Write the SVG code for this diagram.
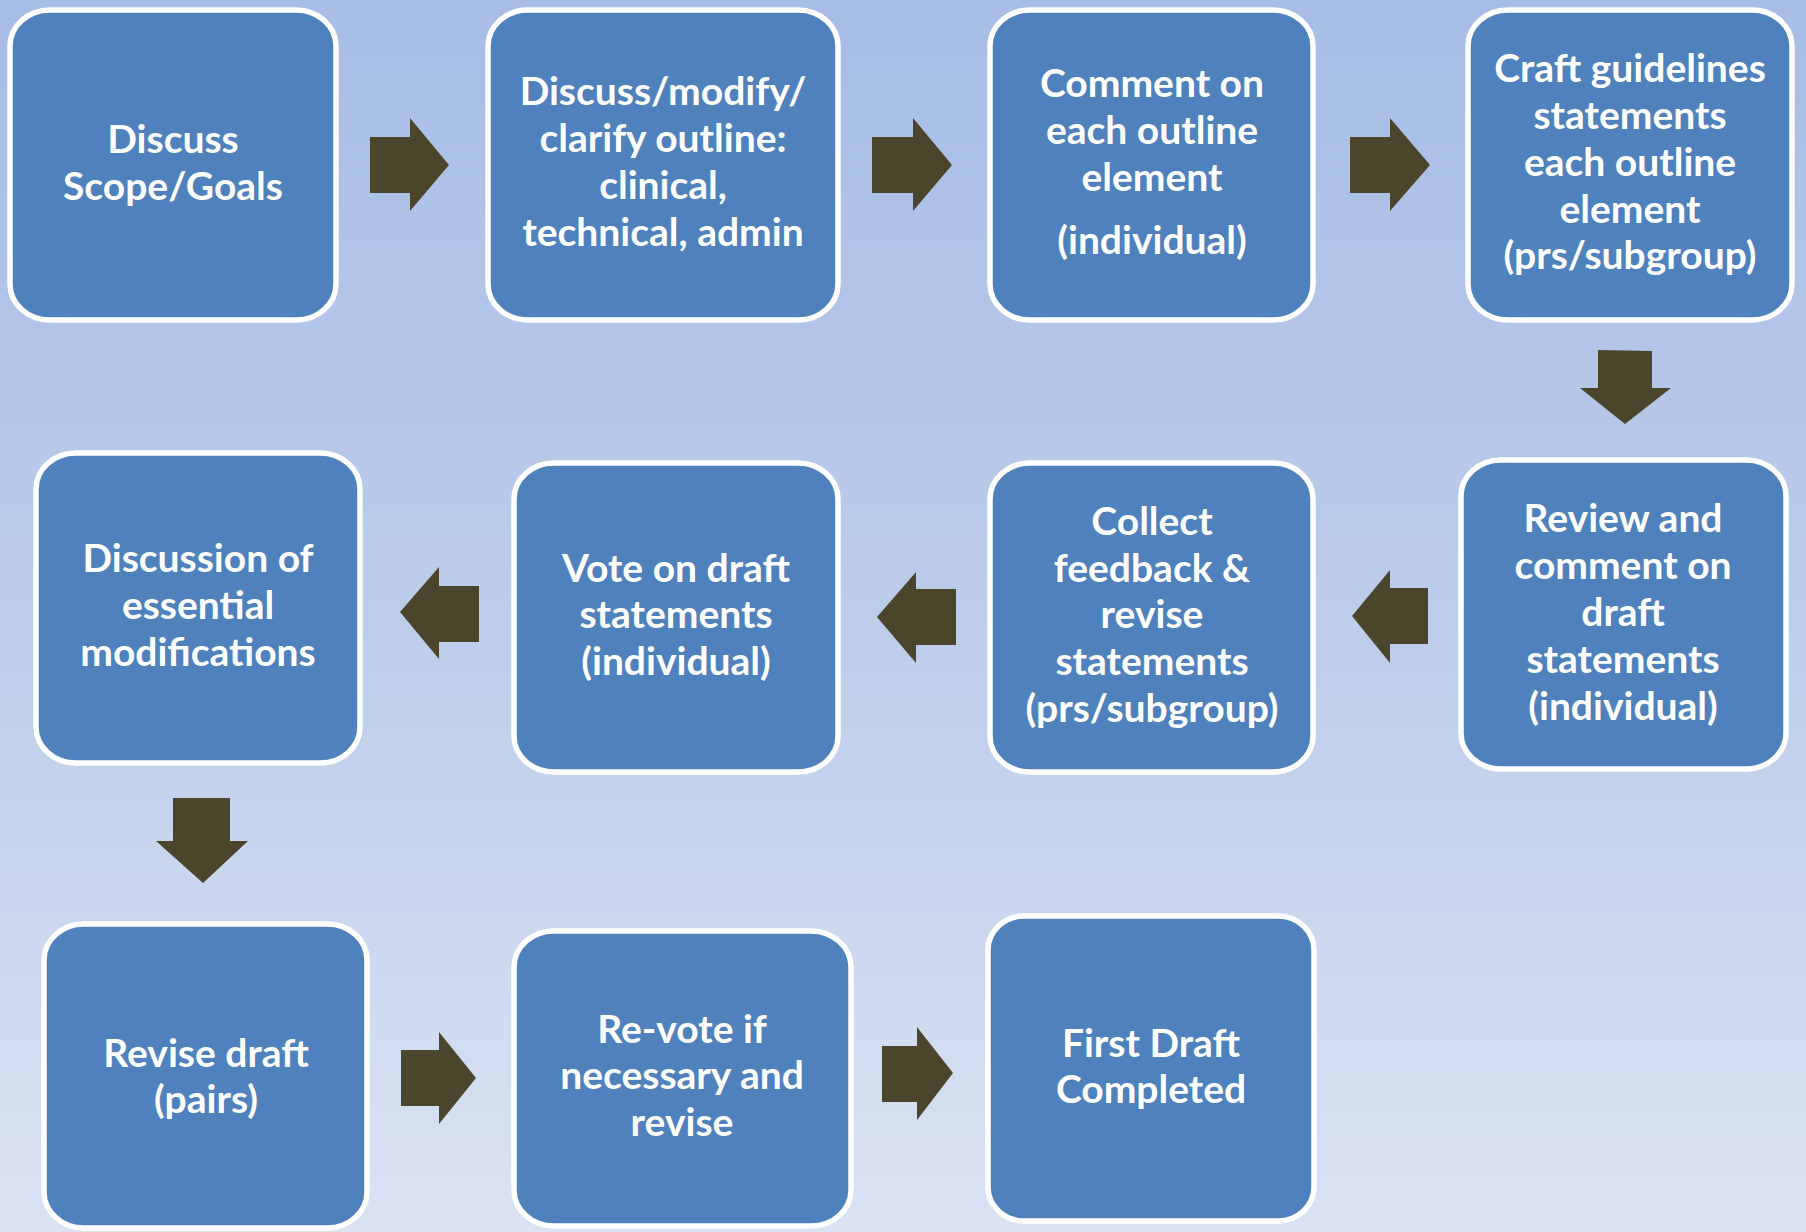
<svg xmlns="http://www.w3.org/2000/svg" width="1806" height="1232" viewBox="0 0 1806 1232">
<defs>
<linearGradient id="bg" x1="0" y1="0" x2="0" y2="1">
<stop offset="0" stop-color="#a7bde6"/>
<stop offset="0.5" stop-color="#bccdea"/>
<stop offset="1" stop-color="#dae3f3"/>
</linearGradient>
<style>
.box{fill:#4f81bd;stroke:#ffffff;stroke-width:5.5}
.arr{fill:#4a452b}
.t{font-family:Lato,"Open Sans","Liberation Sans",sans-serif;font-weight:bold;font-size:39px;fill:#ffffff;text-anchor:middle}
</style>
</defs>
<rect x="0" y="0" width="1806" height="1232" fill="url(#bg)"/>

<g id="connectors">
<polygon class="arr" points="370,137 410,137 410,118 449,165 410,211 410,193 370,193"/>
<polygon class="arr" points="872,137 913,137 913,118 952,165 913,211 913,193 872,193"/>
<polygon class="arr" points="1350,137 1390,137 1390,118 1430,165 1390,211 1390,193 1350,193"/>
<polygon class="arr" points="1598,350 1652,351 1652,388 1671,388 1625,424 1580,388 1598,388"/>
<polygon class="arr" points="1428,588 1390,588 1390,570 1352,616 1390,663 1390,644 1428,644"/>
<polygon class="arr" points="956,589 916,589 916,572 877,617 916,663 916,645 956,645"/>
<polygon class="arr" points="479,586 439,586 439,567 400,612 439,659 439,642 479,642"/>
<polygon class="arr" points="173,798 230,798 230,841 248,841 203,883 156,841 173,841"/>
<polygon class="arr" points="401,1050 439,1050 439,1032 476,1078 439,1124 439,1106 401,1106"/>
<polygon class="arr" points="882,1046 917,1046 917,1027 953,1073 917,1120 917,1102 882,1102"/>
</g>

<g id="n1">
<rect class="box" x="10" y="10" width="326" height="310" rx="40" ry="36"/>
<text class="t" x="173" y="153">Discuss</text>
<text class="t" x="173" y="200">Scope/Goals</text>
</g>
<g id="n2">
<rect class="box" x="488" y="10" width="350" height="310" rx="40" ry="36"/>
<text class="t" x="663" y="105">Discuss/modify/</text>
<text class="t" x="663" y="152">clarify outline:</text>
<text class="t" x="663" y="199">clinical,</text>
<text class="t" x="663" y="246">technical, admin</text>
</g>
<g id="n3">
<rect class="box" x="990" y="10" width="323" height="310" rx="40" ry="36"/>
<text class="t" x="1152" y="97">Comment on</text>
<text class="t" x="1152" y="144">each outline</text>
<text class="t" x="1152" y="191">element</text>
<text class="t" x="1152" y="254">(individual)</text>
</g>
<g id="n4">
<rect class="box" x="1468" y="10" width="324" height="310" rx="40" ry="36"/>
<text class="t" x="1630" y="82">Craft guidelines</text>
<text class="t" x="1630" y="129">statements</text>
<text class="t" x="1630" y="176">each outline</text>
<text class="t" x="1630" y="223">element</text>
<text class="t" x="1630" y="269">(prs/subgroup)</text>
</g>
<g id="n5">
<rect class="box" x="1461" y="460" width="325" height="309" rx="40" ry="36"/>
<text class="t" x="1623" y="532">Review and</text>
<text class="t" x="1623" y="579">comment on</text>
<text class="t" x="1623" y="626">draft</text>
<text class="t" x="1623" y="673">statements</text>
<text class="t" x="1623" y="720">(individual)</text>
</g>
<g id="n6">
<rect class="box" x="990" y="463" width="323" height="309" rx="40" ry="36"/>
<text class="t" x="1152" y="535">Collect</text>
<text class="t" x="1152" y="582">feedback &amp;</text>
<text class="t" x="1152" y="628">revise</text>
<text class="t" x="1152" y="675">statements</text>
<text class="t" x="1152" y="722">(prs/subgroup)</text>
</g>
<g id="n7">
<rect class="box" x="514" y="463" width="324" height="309" rx="40" ry="36"/>
<text class="t" x="676" y="582">Vote on draft</text>
<text class="t" x="676" y="628">statements</text>
<text class="t" x="676" y="675">(individual)</text>
</g>
<g id="n8">
<rect class="box" x="36" y="453" width="324" height="310" rx="40" ry="36"/>
<text class="t" x="198" y="572">Discussion of</text>
<text class="t" x="198" y="619">essential</text>
<text class="t" x="198" y="666">modifications</text>
</g>
<g id="n9">
<rect class="box" x="44" y="924" width="323" height="304" rx="40" ry="36"/>
<text class="t" x="206" y="1067">Revise draft</text>
<text class="t" x="206" y="1113">(pairs)</text>
</g>
<g id="n10">
<rect class="box" x="514" y="931" width="337" height="295" rx="40" ry="36"/>
<text class="t" x="682" y="1043">Re-vote if</text>
<text class="t" x="682" y="1089">necessary and</text>
<text class="t" x="682" y="1136">revise</text>
</g>
<g id="n11">
<rect class="box" x="988" y="916" width="326" height="305" rx="36" ry="34"/>
<text class="t" x="1151" y="1057">First Draft</text>
<text class="t" x="1151" y="1103">Completed</text>
</g>
</svg>
